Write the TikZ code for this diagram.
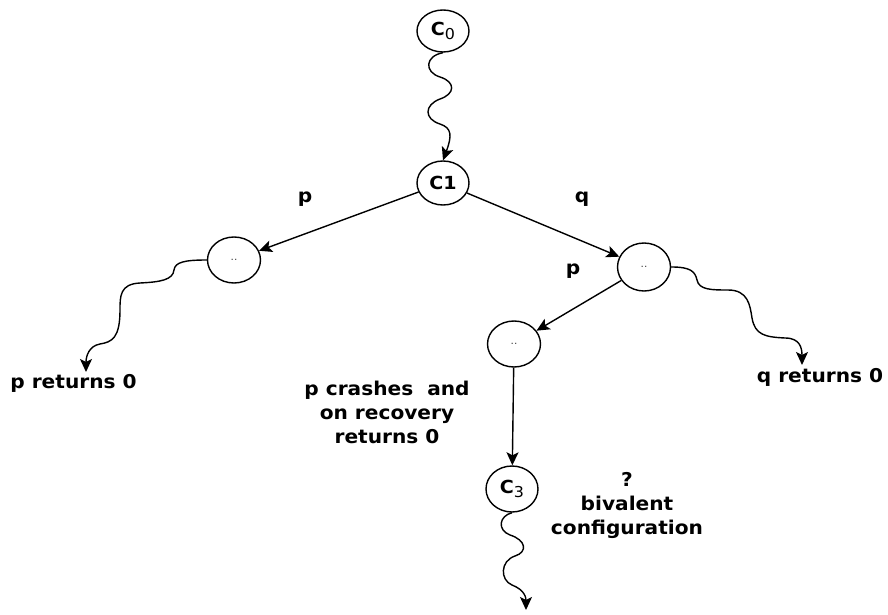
\documentclass[tikz,border=0pt]{standalone}
\usepackage{fontspec}
\setmainfont{DejaVu Sans}[FakeStretch=1.06]
\usetikzlibrary{shapes.geometric,arrows.meta}
\begin{document}
\begin{tikzpicture}[x=1pt,y=-1pt,
  conf/.style={ellipse,draw,line width=1.4pt,minimum width=53pt,minimum height=46pt,inner sep=0pt},
  dots/.style={conf,font=\fontsize{10}{10}\selectfont\color{black!75}},
  lbl/.style={font=\fontsize{19}{24}\selectfont\bfseries,align=center,inner sep=0pt},
  cname/.style={font=\fontsize{18}{18}\selectfont\bfseries},
  edge/.style={line width=1.4pt,-{Stealth[length=13pt,width=12pt,inset=3pt]}},
  wig/.style={edge}
]
\useasboundingbox (0,0) rectangle (888,615);
% nodes
\node[conf,cname,minimum width=52pt,minimum height=42pt] (c0) at (443,31) {C\raisebox{-0.35ex}{\fontsize{15}{15}\selectfont\mdseries 0}};
\node[conf,cname,minimum width=52pt,minimum height=44pt] (c1) at (443,183) {C1};
\node[dots] (l) at (234,260) {..};
\node[dots,minimum height=48pt] (r) at (644,267) {..};
\node[dots] (m) at (514,344) {..};
\node[conf,cname,minimum width=52pt,minimum height=46pt] (c3) at (512,489) {C\raisebox{-0.35ex}{\fontsize{15}{15}\selectfont\mdseries 3}};
% end coordinates of wavy arrows
\coordinate (lend) at (86,372);
\coordinate (rend) at (802,365);
\coordinate (c3end) at (526,610);
% text labels
\node[lbl] (plbl) at (305,199) {p};
\node[lbl] (qlbl) at (582,199) {q};
\node[lbl] (p2lbl) at (573,271) {p};
\node[lbl] (pret) at (73.5,383) {p returns 0};
\node[lbl] (qret) at (820,377) {q returns 0};
\node[lbl] (crash) at (387,412) {p crashes~ and\\on recovery\\returns 0};
\node[lbl] (biv) at (627,505) {?\\bivalent\\configuration};
% connectors
\draw[wig] (c0.south) .. controls (425,56) and (424,72) .. (440,77)
  .. controls (456,82) and (455,94) .. (440,99)
  .. controls (424,105) and (424,119) .. (440,124)
  .. controls (452,128) and (452,136) .. (c1.north);
\draw[edge] (c1) -- (l);
\draw[edge] (c1) -- (r);
\draw[edge] (r) -- (m);
\draw[edge] (m) -- (c3);
\draw[wig] (l.west) .. controls (185,260) and (175,262) .. (174,270)
  .. controls (173,280) and (160,282) .. (140,283)
  .. controls (120,284) and (120,296) .. (120,310)
  .. controls (120,338) and (112,342) .. (100,344)
  .. controls (89,346) and (86,356) .. (lend);
\draw[wig] (r.east) .. controls (690,267) and (695,271) .. (697,280)
  .. controls (699,290) and (712,290) .. (728,290)
  .. controls (748,290) and (750,305) .. (752,318)
  .. controls (755,335) and (765,337) .. (785,338)
  .. controls (800,338) and (802,348) .. (rend);
\draw[wig] (c3.south) .. controls (499,516) and (497,530) .. (510,535)
  .. controls (526,540) and (528,552) .. (515,556)
  .. controls (500,561) and (500,580) .. (512,585)
  .. controls (525,590) and (526,598) .. (c3end);
\end{tikzpicture}
\end{document}
